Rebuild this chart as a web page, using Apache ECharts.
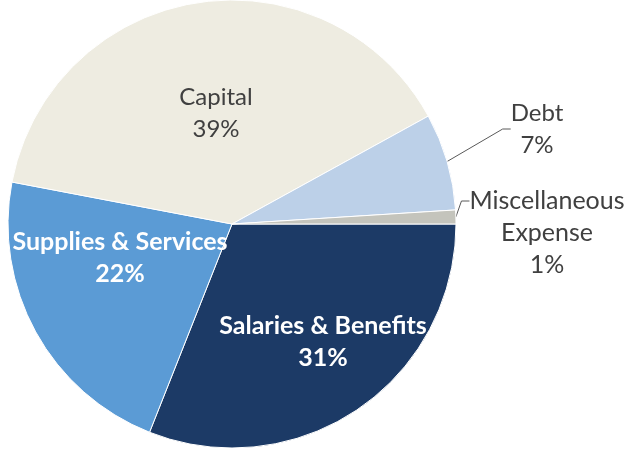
<!DOCTYPE html>
<html>
<head>
<meta charset="utf-8">
<script src="https://cdn.jsdelivr.net/npm/echarts@6/dist/echarts.min.js"></script>
<style>
  html, body { margin: 0; padding: 0; background: #ffffff; }
  #chart { width: 624px; height: 451px; }
</style>
</head>
<body>
<div id="chart"></div>
<script>
// Budget shares, clockwise from 3 o'clock
const categories = ['Salaries & Benefits', 'Supplies & Services', 'Capital', 'Debt', 'Miscellaneous Expense'];
const shares = [31, 22, 39, 7, 1];
// two empty lines on top of the last label keep its leader level with the first line
const labelLines = [
  ['Salaries & Benefits', '31%'],
  ['Supplies & Services', '22%'],
  ['Capital', '39%'],
  ['Debt', '7%'],
  [' ', ' ', 'Miscellaneous', 'Expense', '1%']
];

const sliceColors = ['#1c3a66', '#5b9bd5', '#eeece1', '#bcd0e8', '#c4c4bc'];
const labelStyles = [
  { color: '#ffffff', fontWeight: 'bold', fontSize: 25 },
  { color: '#ffffff', fontWeight: 'bold', fontSize: 25 },
  { color: '#404040', fontWeight: 'normal', fontSize: 24 },
  { color: '#404040', fontWeight: 'normal', fontSize: 24 },
  { color: '#404040', fontWeight: 'normal', fontSize: 25 }
];
// label block centres
const labelSpots = [
  [323, 342], [120, 258], [216, 113], [537, 129], [547, 201]
];

const chart = echarts.init(document.getElementById('chart'), null, { renderer: 'canvas' });

const data = categories.map((name, i) => ({
  name,
  value: shares[i],
  itemStyle: { color: sliceColors[i] },
  label: Object.assign({
    formatter: labelLines[i].join('\n'),
    position: i >= 3 ? 'outside' : 'inside'
  }, labelStyles[i]),
  labelLine: { show: i >= 3 }
}));

chart.setOption({
  animation: false,
  series: [{
    type: 'pie',
    center: [232, 224],
    radius: 224,
    startAngle: 0,
    clockwise: true,
    avoidLabelOverlap: false,
    itemStyle: { borderColor: '#ffffff', borderWidth: 1 },
    label: {
      fontFamily: 'Lato',
      lineHeight: 32,
      align: 'center',
      verticalAlign: 'middle'
    },
    labelLine: {
      lineStyle: { color: '#595959', width: 1 },
      length: 20,
      length2: 8
    },
    labelLayout: function (params) {
      const p = labelSpots[params.dataIndex];
      return { x: p[0], y: p[1], align: 'center', verticalAlign: 'middle' };
    },
    data
  }]
});
</script>
</body>
</html>
